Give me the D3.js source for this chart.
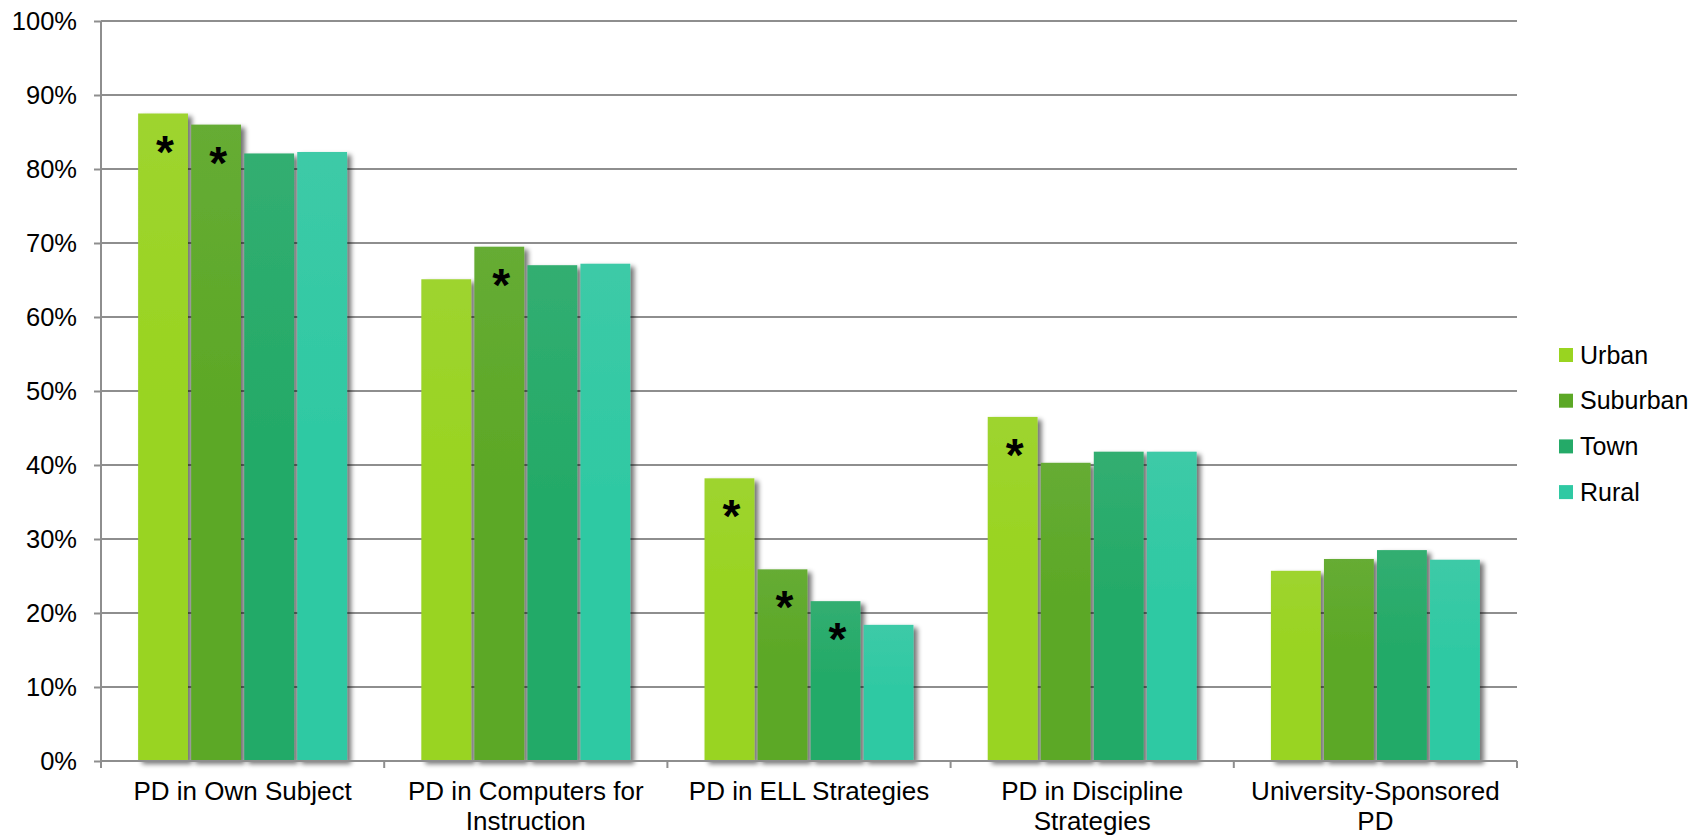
<!DOCTYPE html>
<html>
<head>
<meta charset="utf-8">
<script src="https://cdn.jsdelivr.net/npm/d3@7"></script>
<style>
  html, body { margin: 0; padding: 0; background: #ffffff; }
  svg { display: block; font-family: "Liberation Sans", Arial, sans-serif; }
</style>
</head>
<body>
<svg id="chart" width="1707" height="838"></svg>
<script>
// Professional development participation by school locale
const categories = [
  "PD in Own Subject",
  "PD in Computers for Instruction",
  "PD in ELL Strategies",
  "PD in Discipline Strategies",
  "University-Sponsored PD"
];
const seriesNames = ["Urban", "Suburban", "Town", "Rural"];

const urban    = [87.5, 65.1, 38.2, 46.5, 25.7];
const suburban = [86.0, 69.5, 25.9, 40.3, 27.3];
const town     = [82.1, 67.0, 21.6, 41.8, 28.5];
const rural    = [82.3, 67.2, 18.4, 41.8, 27.2];

// significance markers (asterisks) per series and category
const urbanSig    = [true,  false, true,  true,  false];
const suburbanSig = [true,  true,  true,  false, false];
const townSig     = [false, false, true,  false, false];
const ruralSig    = [false, false, false, false, false];

const yTicks = [0, 10, 20, 30, 40, 50, 60, 70, 80, 90, 100];
const colors = ["#99d420", "#5ca826", "#24aa68", "#2fc9a3"];

const values = [urban, suburban, town, rural];
const sigs = [urbanSig, suburbanSig, townSig, ruralSig];

const svg = d3.select("#chart");
const plot = { left: 101, right: 1517, top: 21, bottom: 761 };

const x0 = d3.scaleBand().domain(categories).range([plot.left, plot.right]).padding(0);
const x1 = d3.scaleBand().domain(seriesNames).range([0, x0.bandwidth()])
  .paddingInner(0.06).paddingOuter(0.7);
const y = d3.scaleLinear().domain([0, 100]).range([plot.bottom, plot.top]);

const defs = svg.append("defs");
const shadow = defs.append("filter").attr("id", "barShadow")
  .attr("x", "-20%").attr("y", "-10%").attr("width", "150%").attr("height", "130%");
shadow.append("feGaussianBlur").attr("in", "SourceAlpha").attr("stdDeviation", 2.4).attr("result", "blur");
shadow.append("feOffset").attr("in", "blur").attr("dx", 4).attr("dy", 3).attr("result", "off");
shadow.append("feComponentTransfer").attr("in", "off").attr("result", "shade")
  .append("feFuncA").attr("type", "linear").attr("slope", 0.55);
const merge = shadow.append("feMerge");
merge.append("feMergeNode").attr("in", "shade");
merge.append("feMergeNode").attr("in", "SourceGraphic");

colors.forEach((c, i) => {
  const g = defs.append("linearGradient").attr("id", "grad" + i)
    .attr("x1", 0).attr("y1", 0).attr("x2", 0).attr("y2", 1);
  g.append("stop").attr("offset", "0%").attr("stop-color", d3.interpolateRgb(c, "#d8d8d8")(0.08));
  g.append("stop").attr("offset", "45%").attr("stop-color", c);
  g.append("stop").attr("offset", "100%").attr("stop-color", c);
});

// gridlines
svg.append("g").selectAll("line").data(yTicks.filter(t => t > 0)).join("line")
  .attr("x1", plot.left).attr("x2", plot.right)
  .attr("y1", d => y(d)).attr("y2", d => y(d))
  .attr("stroke", "#8e8e8e").attr("stroke-width", 2);

// y axis
const yAxis = svg.append("g").attr("transform", `translate(${plot.left},0)`)
  .call(d3.axisLeft(y).tickValues(yTicks).tickFormat(d => d + "%").tickSize(7).tickPadding(17));
yAxis.select(".domain").remove();
yAxis.selectAll(".tick line").attr("stroke", "#8e8e8e").attr("stroke-width", 2);
yAxis.selectAll(".tick text").attr("font-size", 25.5).attr("fill", "#000")
  .attr("font-family", "Liberation Sans, Arial, sans-serif");

// bars
const groups = svg.append("g").selectAll("g").data(categories).join("g")
  .attr("transform", d => `translate(${x0(d)},0)`);

const barData = (cat, ci) => seriesNames.map((s, si) => ({
  series: s, si, value: values[si][ci], sig: sigs[si][ci]
}));

groups.each(function (cat, ci) {
  const g = d3.select(this);
  const data = barData(cat, ci);
  g.selectAll("rect").data(data).join("rect")
    .attr("x", d => x1(d.series))
    .attr("width", x1.bandwidth())
    .attr("y", d => y(d.value))
    .attr("height", d => y(0) - y(d.value))
    .attr("fill", d => `url(#grad${d.si})`)
    .attr("filter", "url(#barShadow)");
  g.selectAll("text.sig").data(data.filter(d => d.sig)).join("text")
    .attr("class", "sig")
    .attr("x", d => x1(d.series) + x1.bandwidth() / 2 + 2)
    .attr("y", d => y(d.value) + 54)
    .attr("text-anchor", "middle")
    .attr("font-size", 46)
    .attr("font-weight", "bold")
    .attr("fill", "#000")
    .text("*");
});

// x axis (drawn over bar bases)
const xAxisG = svg.append("g");
xAxisG.append("line")
  .attr("x1", plot.left).attr("x2", plot.right)
  .attr("y1", plot.bottom).attr("y2", plot.bottom)
  .attr("stroke", "#8e8e8e").attr("stroke-width", 2);
const boundaries = categories.map(c => x0(c)).concat([plot.right]);
xAxisG.selectAll("line.tk").data(boundaries).join("line").attr("class", "tk")
  .attr("x1", d => d).attr("x2", d => d)
  .attr("y1", plot.bottom).attr("y2", plot.bottom + 7)
  .attr("stroke", "#8e8e8e").attr("stroke-width", 2);
// left axis line
svg.append("line")
  .attr("x1", plot.left).attr("x2", plot.left)
  .attr("y1", plot.top).attr("y2", plot.bottom + 7)
  .attr("stroke", "#8e8e8e").attr("stroke-width", 2);

// category labels, wrapped to the band width
const maxW = 250;
categories.forEach(cat => {
  const t = svg.append("text")
    .attr("x", x0(cat) + x0.bandwidth() / 2)
    .attr("y", 800)
    .attr("text-anchor", "middle")
    .attr("font-size", 26)
    .attr("fill", "#000");
  const words = cat.split(" ");
  let line = [];
  let lines = [];
  const probe = t.append("tspan");
  words.forEach(w => {
    const trial = line.concat([w]).join(" ");
    probe.text(trial);
    if (probe.node().getComputedTextLength() > maxW && line.length) {
      lines.push(line.join(" "));
      line = [w];
    } else {
      line.push(w);
    }
  });
  lines.push(line.join(" "));
  probe.remove();
  lines.forEach((l, i) => {
    t.append("tspan").attr("x", x0(cat) + x0.bandwidth() / 2)
      .attr("dy", i === 0 ? 0 : 30).text(l);
  });
});

// legend
const legend = svg.append("g").attr("transform", "translate(1559,355)");
const li = legend.selectAll("g").data(seriesNames).join("g")
  .attr("transform", (d, i) => `translate(0,${i * 45.7})`);
li.append("rect").attr("x", 0).attr("y", -7).attr("width", 14).attr("height", 14)
  .attr("fill", (d, i) => colors[i]);
li.append("text").attr("x", 21).attr("y", 0).attr("dy", "0.35em")
  .attr("font-size", 25).attr("fill", "#000").text(d => d);
</script>
</body>
</html>
